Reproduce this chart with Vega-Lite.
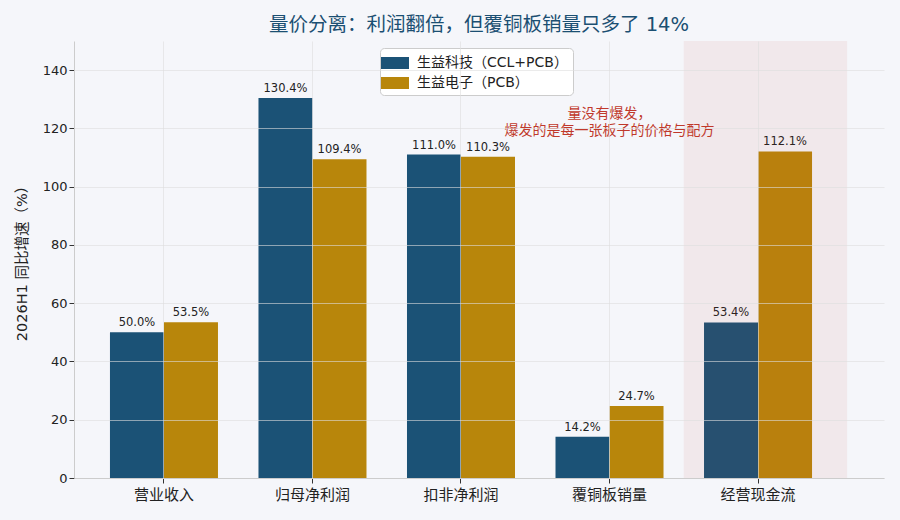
{
  "$schema": "https://vega.github.io/schema/vega-lite/v6.json",
  "autosize": {"type": "none"},
  "padding": {"left": 74, "top": 41, "right": 16, "bottom": 42},
  "width": 810,
  "height": 437,
  "background": "#f5f6fa",
  "title": {
    "text": "量价分离：利润翻倍，但覆铜板销量只多了 14%",
    "fontSize": 19.5,
    "fontWeight": "normal",
    "font": "DejaVu Sans, Noto Sans CJK SC",
    "color": "#1b4f72",
    "anchor": "middle",
    "offset": 6
  },
  "config": {
    "view": {"stroke": null},
    "font": "DejaVu Sans, Noto Sans CJK SC"
  },
  "data": {
    "values": [
      {"cat": "营业收入", "series": "生益科技（CCL+PCB）", "value": 50.0, "label": "50.0%"},
      {"cat": "营业收入", "series": "生益电子（PCB）", "value": 53.5, "label": "53.5%"},
      {"cat": "归母净利润", "series": "生益科技（CCL+PCB）", "value": 130.4, "label": "130.4%"},
      {"cat": "归母净利润", "series": "生益电子（PCB）", "value": 109.4, "label": "109.4%"},
      {"cat": "扣非净利润", "series": "生益科技（CCL+PCB）", "value": 111.0, "label": "111.0%"},
      {"cat": "扣非净利润", "series": "生益电子（PCB）", "value": 110.3, "label": "110.3%"},
      {"cat": "覆铜板销量", "series": "生益科技（CCL+PCB）", "value": 14.2, "label": "14.2%"},
      {"cat": "覆铜板销量", "series": "生益电子（PCB）", "value": 24.7, "label": "24.7%"},
      {"cat": "经营现金流", "series": "生益科技（CCL+PCB）", "value": 53.4, "label": "53.4%"},
      {"cat": "经营现金流", "series": "生益电子（PCB）", "value": 112.1, "label": "112.1%"}
    ]
  },
  "encoding": {
    "x": {
      "field": "cat",
      "type": "nominal",
      "sort": ["营业收入", "归母净利润", "扣非净利润", "覆铜板销量", "经营现金流"],
      "scale": {"paddingInner": 0, "paddingOuter": 0.227, "align": 0.233},
      "axis": {
        "title": null,
        "labelAngle": 0,
        "labelFontSize": 15,
        "labelColor": "#222222",
        "labelPadding": 4,
        "tickColor": "#333333",
        "tickSize": 5,
        "domainColor": "#cccccc",
        "grid": true,
        "gridColor": "#dddddd",
        "gridOpacity": 0.6,
        "bandPosition": 0.5,
        "zindex": 1
      }
    }
  },
  "layer": [
    {
      "mark": {"type": "bar"},
      "encoding": {
        "xOffset": {
          "field": "series",
          "type": "nominal",
          "sort": ["生益科技（CCL+PCB）", "生益电子（PCB）"],
          "scale": {"paddingInner": 0, "paddingOuter": 0.375}
        },
        "y": {
          "field": "value",
          "type": "quantitative",
          "scale": {"domain": [0, 150], "nice": false},
          "axis": {
            "title": "2026H1 同比增速（%）",
            "titleFontSize": 14.5,
            "titleFontWeight": "normal",
            "titleColor": "#222222",
            "titlePadding": 13,
            "values": [0, 20, 40, 60, 80, 100, 120, 140],
            "labelFontSize": 13,
            "labelColor": "#222222",
            "tickColor": "#333333",
            "tickSize": 5,
            "domainColor": "#cccccc",
            "gridColor": "#dddddd",
            "gridOpacity": 0.6,
            "zindex": 1
          }
        },
        "color": {
          "field": "series",
          "type": "nominal",
          "sort": ["生益科技（CCL+PCB）", "生益电子（PCB）"],
          "scale": {"range": ["#1b5276", "#b8860b"]},
          "legend": {
            "title": null,
            "orient": "none",
            "legendX": 306,
            "legendY": 7,
            "labelFontSize": 14,
            "labelColor": "#222222",
            "labelOffset": 12,
            "symbolType": "M-1.4,-0.6H1.4V0.6H-1.4Z",
            "symbolSize": 400,
            "symbolStrokeWidth": 0,
            "rowPadding": 3,
            "fillColor": "#ffffff",
            "strokeColor": "#cccccc",
            "cornerRadius": 4,
            "padding": 5
          }
        }
      }
    },
    {
      "mark": {"type": "text", "baseline": "bottom", "dy": -4, "fontSize": 11.5, "color": "#222222"},
      "encoding": {
        "xOffset": {
          "field": "series",
          "type": "nominal",
          "sort": ["生益科技（CCL+PCB）", "生益电子（PCB）"],
          "scale": {"paddingInner": 0, "paddingOuter": 0.375}
        },
        "y": {"field": "value", "type": "quantitative"},
        "text": {"field": "label"}
      }
    },
    {
      "data": {"values": [{"note": "span"}]},
      "mark": {"type": "rect", "fill": "#c0392b", "fillOpacity": 0.07},
      "encoding": {
        "x": {"datum": "经营现金流", "bandPosition": 0},
        "x2": {"datum": "经营现金流", "bandPosition": 1.1},
        "y": {"datum": 150},
        "y2": {"datum": 0}
      }
    },
    {
      "data": {"values": [{"note": "annotation"}]},
      "mark": {"type": "text", "align": "center", "baseline": "middle", "fontSize": 14, "fontWeight": "normal", "color": "#c0392b", "lineHeight": 17},
      "encoding": {
        "x": {"datum": "覆铜板销量"},
        "y": {"datum": 125},
        "text": {"value": ["量没有爆发，", "爆发的是每一张板子的价格与配方"]}
      }
    }
  ]
}
